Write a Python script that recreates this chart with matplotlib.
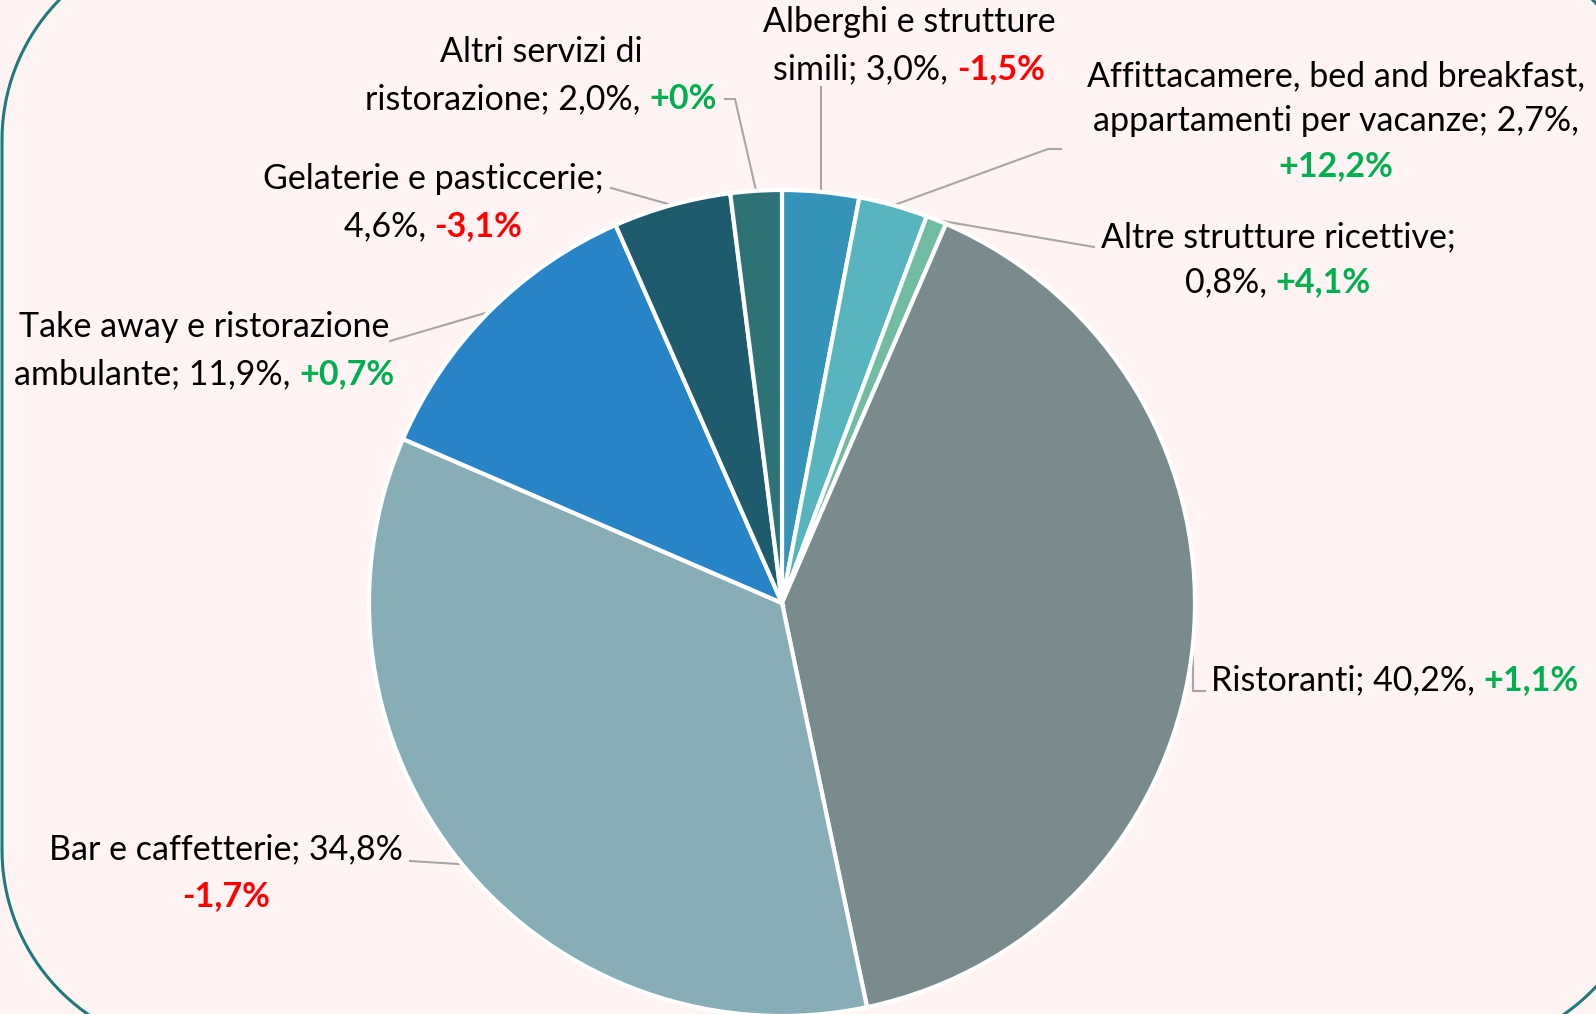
import matplotlib
matplotlib.use("Agg")
import matplotlib.pyplot as plt
import numpy as np

# data
categories = ["Alberghi e strutture simili", "Affittacamere, bed and breakfast, appartamenti per vacanze",
              "Altre strutture ricettive", "Ristoranti", "Bar e caffetterie",
              "Take away e ristorazione ambulante", "Gelaterie e pasticcerie", "Altri servizi di ristorazione"]
shares = [3.0, 2.7, 0.8, 40.2, 34.8, 11.9, 4.6, 2.0]
changes = ["-1,5%", "+12,2%", "+4,1%", "+1,1%", "-1,7%", "+0,7%", "-3,1%", "+0%"]
colors = ["#3593BA", "#58B5C0", "#72BCA4", "#7A8B8D", "#87ADB6", "#2784C7", "#1F5B6E", "#2D7375"]

W, H = 1596, 1014
BG = "#FFF4F3"
GREEN = "#00B050"
RED = "#FF0000"
LEAD = "#A6A6A6"
FONT = "Lato"
FS = 24.5

fig = plt.figure(figsize=(W / 100, H / 100), dpi=100, facecolor=BG)
ax = fig.add_axes([0, 0, 1, 1])
ax.set_facecolor(BG)

cx, cy, R = 782, 603, 413
# y axis is inverted below, so counterclock=True runs clockwise on screen
wedges, _ = ax.pie(shares, colors=colors, startangle=-90, counterclock=True,
                   center=(cx, cy), radius=R, frame=True,
                   wedgeprops=dict(edgecolor="white", linewidth=3))
ax.set_xlim(0, W)
ax.set_ylim(H, 0)
ax.axis("off")
ax.set_aspect("equal")

# rounded frame, partly off-canvas
x0, x1, y0, y1, rr = 2, 1650, -60, 1050, 200
pts = []
for (ccx, ccy, a0) in [(x1 - rr, y0 + rr, -90), (x1 - rr, y1 - rr, 0),
                       (x0 + rr, y1 - rr, 90), (x0 + rr, y0 + rr, 180)]:
    t = np.deg2rad(np.linspace(a0, a0 + 90, 40))
    pts.append(np.column_stack([ccx + rr * np.cos(t), ccy + rr * np.sin(t)]))
pts = np.vstack(pts + [pts[0][:1]])
ax.plot(pts[:, 0], pts[:, 1], color="#1E7B7B", lw=2.2, clip_on=False)


def anchor(w):
    a = np.deg2rad((w.theta1 + w.theta2) / 2)
    return cx + R * np.cos(a), cy + R * np.sin(a)


fig.canvas.draw()
renderer = fig.canvas.get_renderer()


def put_line(x, y, parts, ha="center"):
    texts = []
    for s, c, bold in parts:
        t = ax.text(0, y, s, color=c, fontsize=FS, family=FONT,
                    fontweight="bold" if bold else "normal", va="center", ha="left")
        texts.append(t)
    widths = [t.get_window_extent(renderer).width for t in texts]
    total = sum(widths)
    xs = x - total / 2 if ha == "center" else x
    for t, wd in zip(texts, widths):
        t.set_x(xs)
        xs += wd


def col(c):
    return GREEN if c.startswith("+") else RED


# labels
put_line(909, 22, [("Alberghi e strutture", "black", False)])
put_line(909, 69, [("simili; 3,0%, ", "black", False), (changes[0], col(changes[0]), True)])

put_line(1336, 76, [("Affittacamere, bed and breakfast,", "black", False)])
put_line(1336, 121, [("appartamenti per vacanze; 2,7%,", "black", False)])
put_line(1336, 166, [(changes[1], col(changes[1]), True)])

put_line(1278, 237, [("Altre strutture ricettive;", "black", False)])
put_line(1278, 282, [("0,8%, ", "black", False), (changes[2], col(changes[2]), True)])

put_line(1211, 680, [("Ristoranti; 40,2%, ", "black", False), (changes[3], col(changes[3]), True)], ha="left")

put_line(226, 849, [("Bar e caffetterie; 34,8%", "black", False)])
put_line(226, 896, [(changes[4], col(changes[4]), True)])

put_line(204, 327, [("Take away e ristorazione", "black", False)])
put_line(204, 374, [("ambulante; 11,9%, ", "black", False), (changes[5], col(changes[5]), True)])

put_line(433, 179, [("Gelaterie e pasticcerie;", "black", False)])
put_line(433, 226, [("4,6%, ", "black", False), (changes[6], col(changes[6]), True)])

put_line(541, 52, [("Altri servizi di", "black", False)])
put_line(541, 99, [("ristorazione; 2,0%, ", "black", False), (changes[7], col(changes[7]), True)])

# leader lines
lk = dict(color=LEAD, lw=1.5, zorder=0.5)
a = [anchor(w) for w in wedges]
ax.plot([a[0][0], a[0][0]], [87, a[0][1]], **lk)
ax.plot([1061, 1048, a[1][0]], [149, 149, a[1][1]], **lk)
ax.plot([1094, a[2][0]], [247, a[2][1]], **lk)
ax.plot([a[3][0], a[3][0], 1205], [a[3][1], 691, 691], **lk)
ax.plot([410, a[4][0]], [861, a[4][1]], **lk)
ax.plot([390, a[5][0]], [341, a[5][1]], **lk)
ax.plot([611, a[6][0]], [188, a[6][1]], **lk)
ax.plot([725, 735, a[7][0]], [99, 99, a[7][1]], **lk)

fig.savefig("out.png", dpi=100, facecolor=BG)
